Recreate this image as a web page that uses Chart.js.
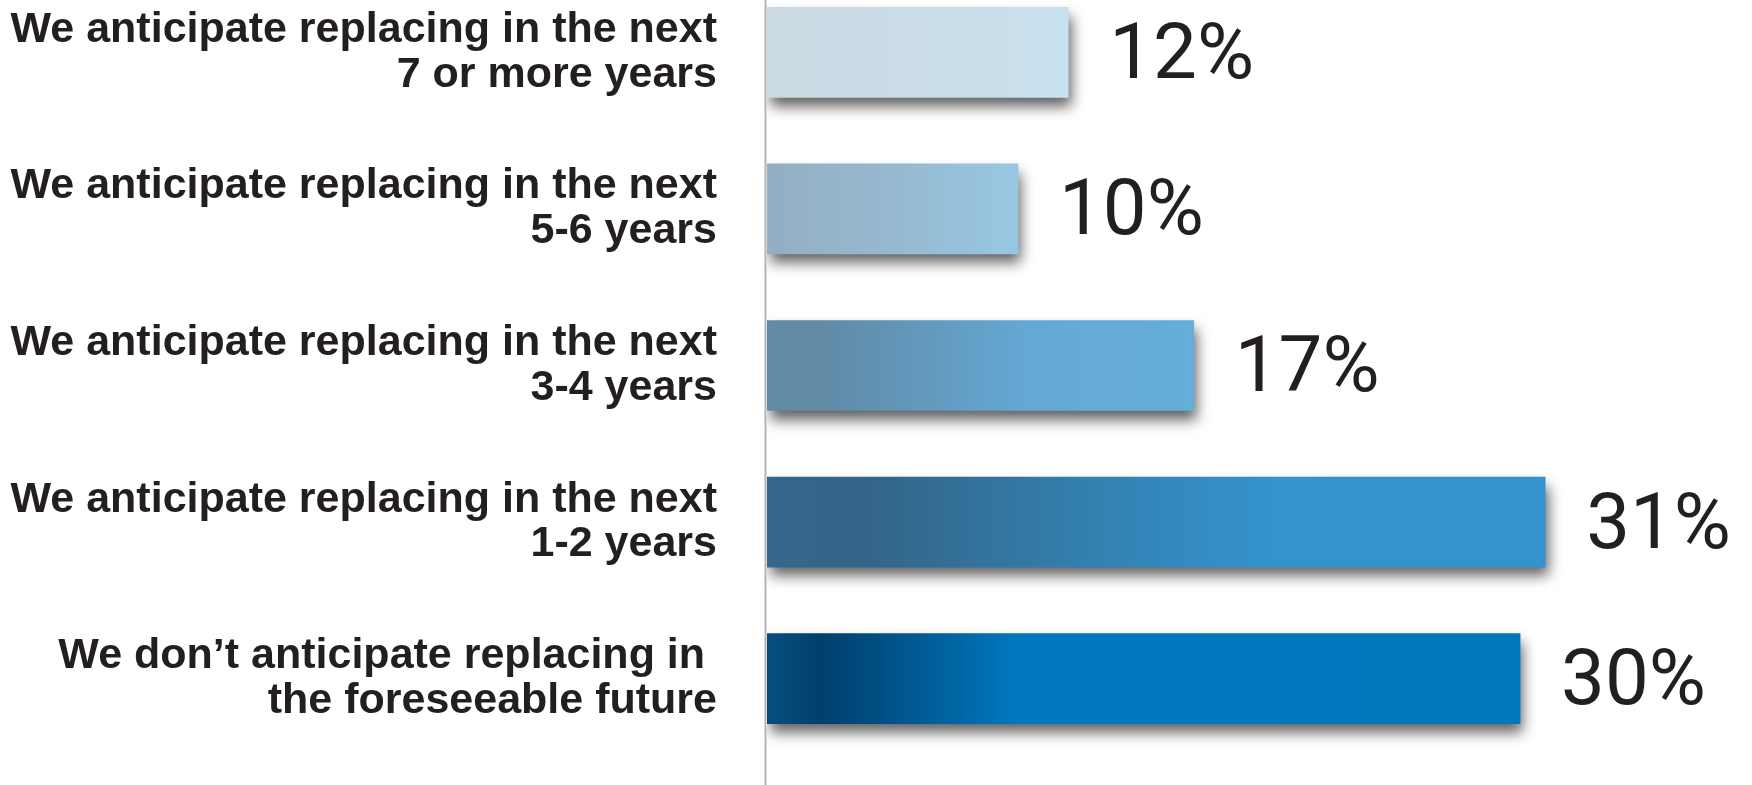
<!DOCTYPE html>
<html>
<head>
<meta charset="utf-8">
<script src="https://cdn.jsdelivr.net/npm/chart.js@4/dist/chart.umd.min.js"></script>
<style>
  html, body { margin: 0; padding: 0; background: #ffffff; overflow: hidden; width: 1752px; height: 785px; }
  #wrap { position: absolute; left: 0; top: -26px; width: 1752px; height: 811px; }
</style>
</head>
<body>
<div id="wrap"><canvas id="c" width="1752" height="811"></canvas></div>
<script>
const categories = [
  ["We anticipate replacing in the next", "7 or more years"],
  ["We anticipate replacing in the next", "5-6 years"],
  ["We anticipate replacing in the next", "3-4 years"],
  ["We anticipate replacing in the next", "1-2 years"],
  ["We don\u2019t anticipate replacing in ", "the foreseeable future"]
];
const values = [12, 10, 17, 31, 30];
const valueLabels = ["12%", "10%", "17%", "31%", "30%"];

const gradientStops = [
  [[0, "#cbd9e2"], [1, "#c9e1ef"]],
  [[0, "#94aec2"], [0.5, "#96b9d0"], [1, "#98c7e3"]],
  [[0, "#638aa6"], [0.14, "#618ba7"], [0.62, "#64a9d5"], [1, "#65aeda"]],
  [[0, "#35688c"], [0.12, "#336487"], [0.5, "#3388bb"], [0.65, "#3592cd"], [1, "#3592cc"]],
  [[0, "#054f7f"], [0.07, "#003f6c"], [0.2, "#005a94"], [0.33, "#0077be"], [1, "#0078be"]]
];

const shadowPlugin = {
  id: 'barShadow',
  beforeDatasetsDraw(chart) {
    const ctx = chart.ctx;
    ctx.save();
    ctx.shadowColor = 'rgba(0,0,0,0.62)';
    ctx.shadowBlur = 13;
    ctx.shadowOffsetX = 3;
    ctx.shadowOffsetY = 9;
  },
  afterDatasetsDraw(chart) {
    chart.ctx.restore();
  }
};

const axisLinePlugin = {
  id: 'axisLine',
  afterDatasetsDraw(chart) {
    const ctx = chart.ctx;
    const x = chart.chartArea.left - 1.5;
    ctx.save();
    ctx.strokeStyle = '#b3b3b3';
    ctx.lineWidth = 2;
    ctx.beginPath();
    ctx.moveTo(x, 26);
    ctx.lineTo(x, chart.height);
    ctx.stroke();
    ctx.restore();
  }
};

const valueLabelPlugin = {
  id: 'valueLabels',
  afterDatasetsDraw(chart) {
    const ctx = chart.ctx;
    const meta = chart.getDatasetMeta(0);
    ctx.save();
    ctx.fillStyle = '#231f20';
    ctx.font = '400 78px Roboto, "Liberation Sans", sans-serif';
    ctx.textAlign = 'left';
    ctx.textBaseline = 'middle';
    meta.data.forEach((bar, i) => {
      ctx.fillText(valueLabels[i], bar.x + 41, bar.y + 6);
    });
    ctx.restore();
  }
};

new Chart(document.getElementById('c'), {
  type: 'bar',
  data: {
    labels: categories,
    datasets: [{
      data: values,
      barThickness: 90,
      borderWidth: 0,
      backgroundColor: (c) => {
        const chart = c.chart;
        if (!chart.chartArea) return '#0077be';
        const xs = chart.scales.x;
        const x0 = xs.getPixelForValue(0);
        const x1 = xs.getPixelForValue(c.raw);
        const g = chart.ctx.createLinearGradient(x0, 0, x1, 0);
        gradientStops[c.dataIndex].forEach(([o, col]) => g.addColorStop(o, col));
        return g;
      }
    }]
  },
  options: {
    indexAxis: 'y',
    responsive: false,
    animation: false,
    devicePixelRatio: 1,
    layout: { padding: { left: 0, right: 6, top: 0, bottom: 28 } },
    plugins: { legend: { display: false }, tooltip: { enabled: false } },
    scales: {
      x: { display: false, min: 0, max: 39 },
      y: {
        grid: { display: false, drawTicks: false },
        border: { display: false },
        afterFit: (s) => { s.width = 767; s.paddingTop = 0; s.paddingBottom = 0; },
        ticks: {
          color: '#231f20',
          padding: 50,
          font: { family: '"Liberation Sans", Arial, sans-serif', size: 43, weight: 'bold', lineHeight: 1.04 }
        }
      }
    }
  },
  plugins: [shadowPlugin, axisLinePlugin, valueLabelPlugin]
});
</script>
</body>
</html>
